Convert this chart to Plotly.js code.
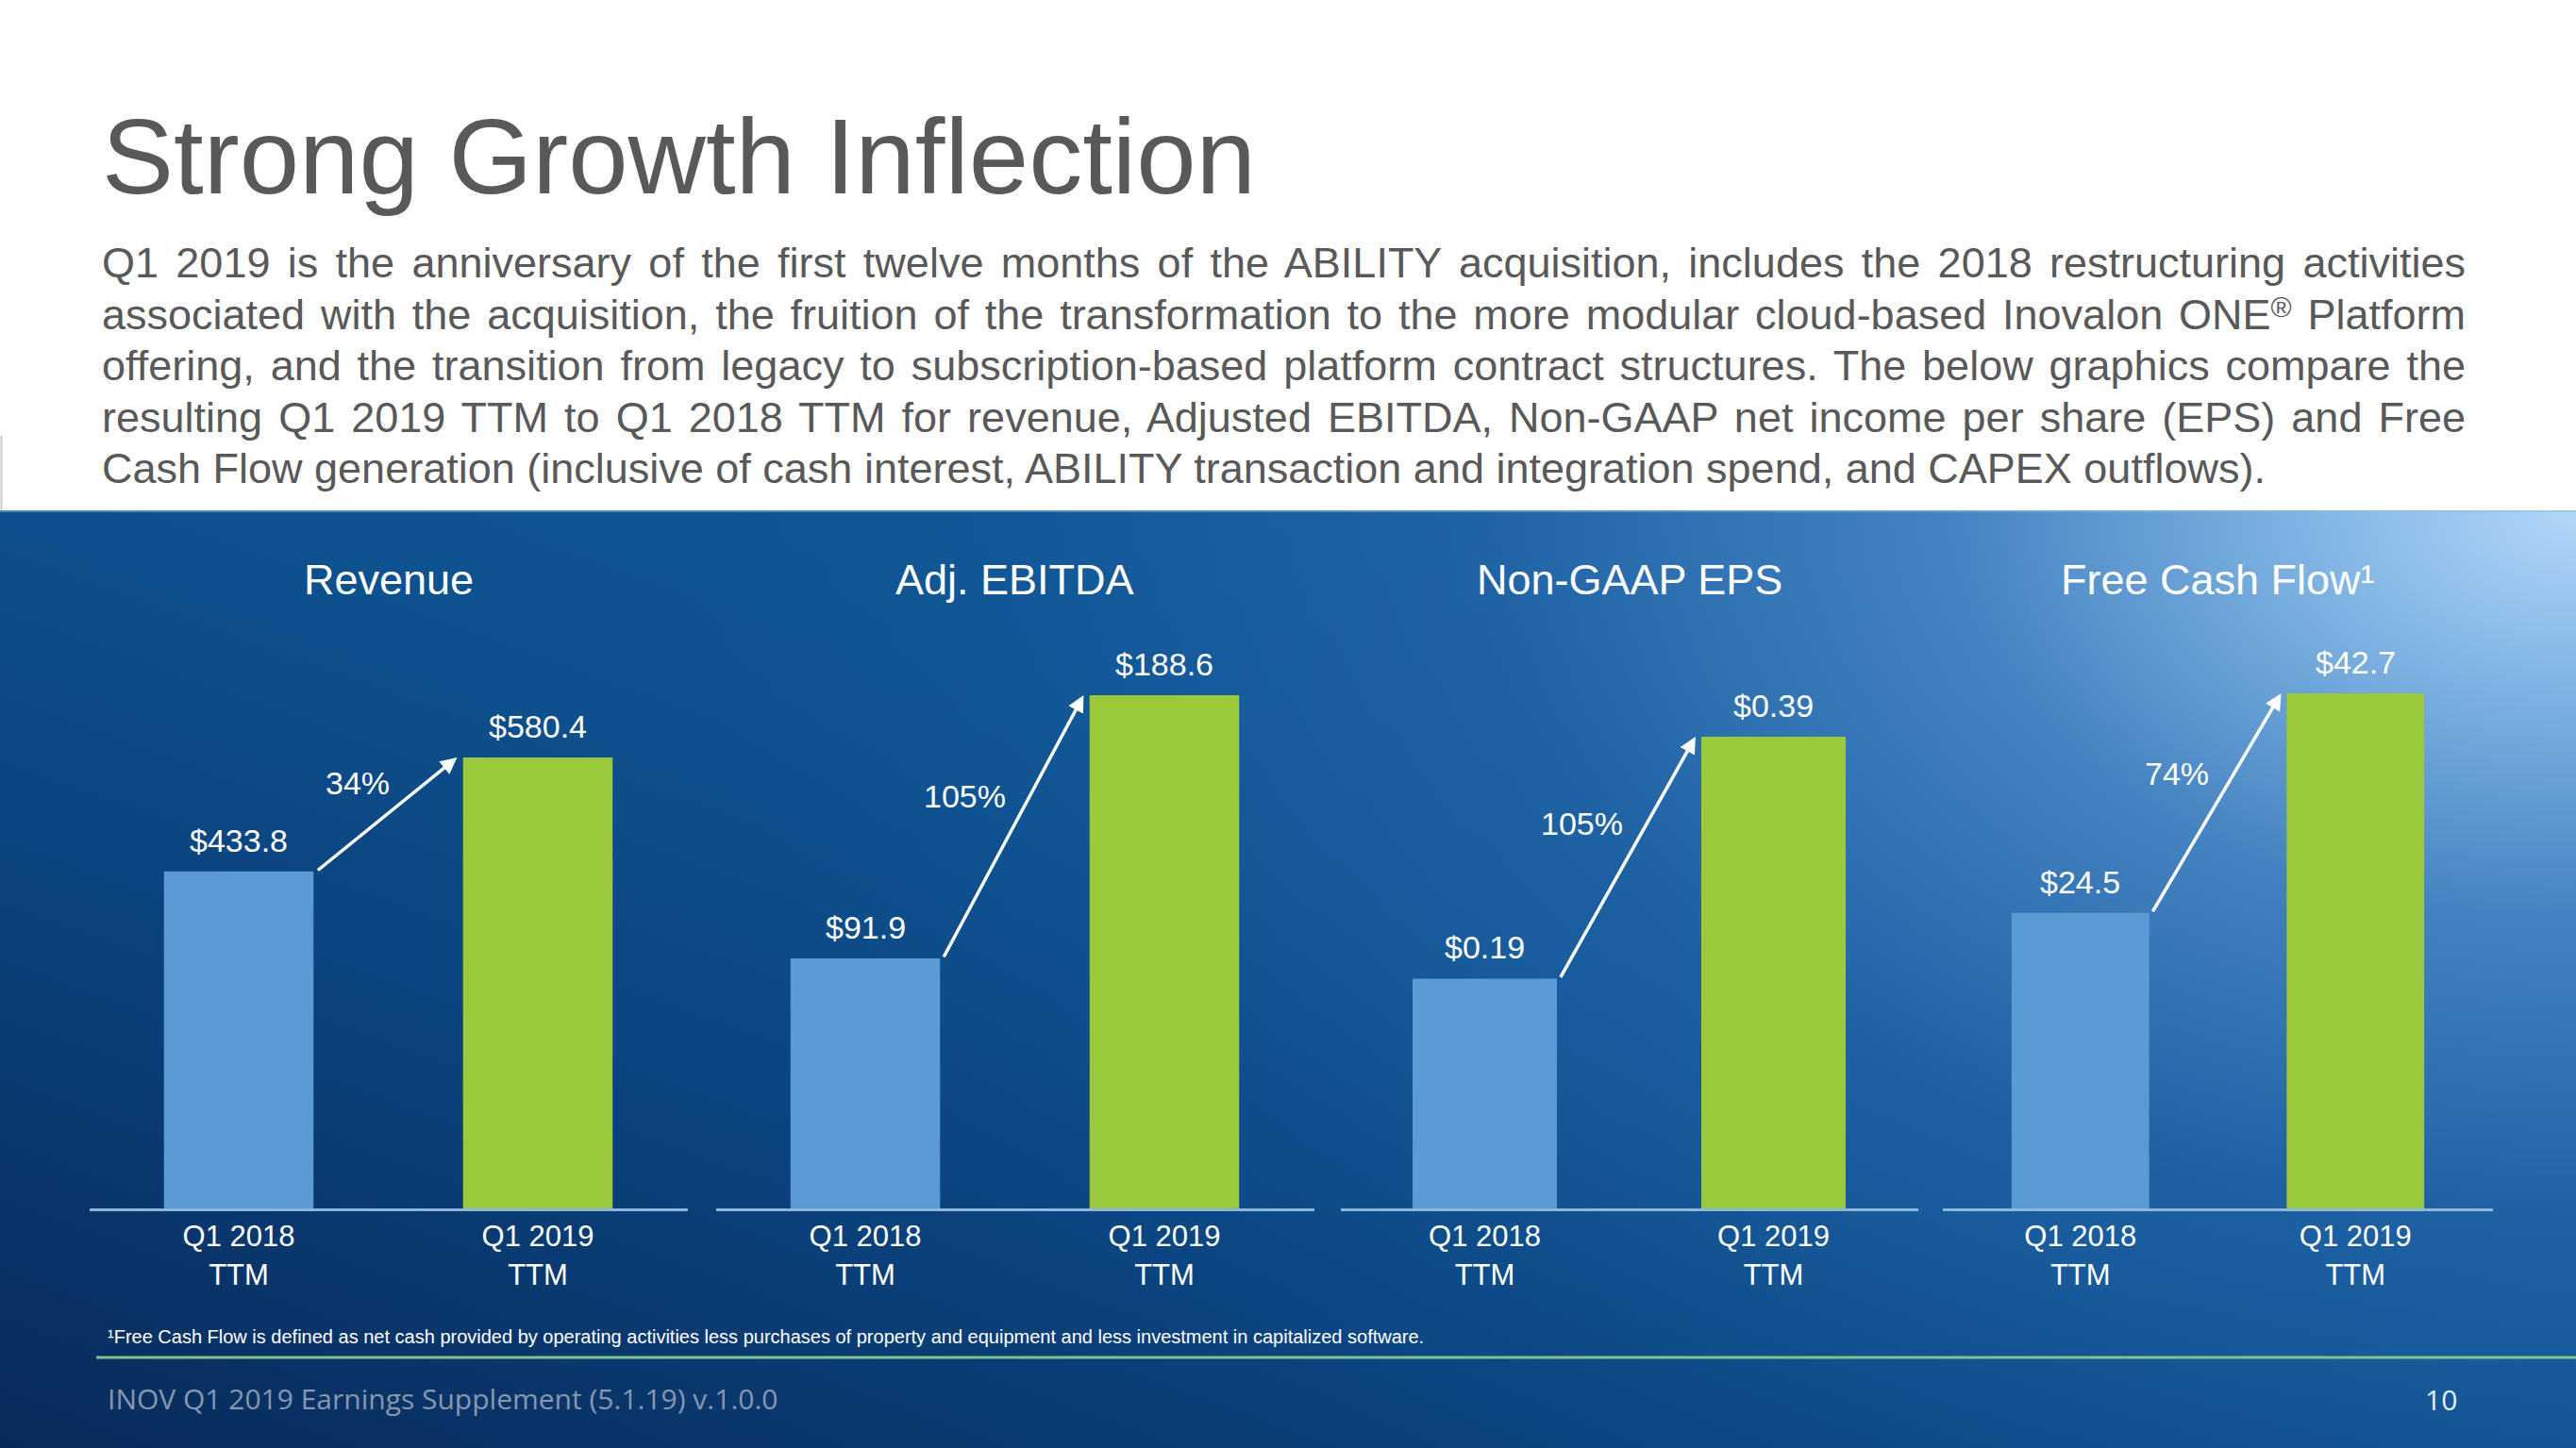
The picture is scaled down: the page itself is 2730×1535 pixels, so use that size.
<!DOCTYPE html>
<html>
<head>
<meta charset="utf-8">
<script src="https://cdn.plot.ly/plotly-3.0.1.min.js"></script>
<style>
  html, body { margin: 0; padding: 0; background: #ffffff; }
  #wrap { position: relative; width: 2730px; height: 1535px; overflow: hidden; background: #ffffff; }
  #bg {
    position: absolute; left: 0; top: 541px; width: 2730px; height: 994px;
    background:
      radial-gradient(ellipse 2000px 1300px at 100% 0%, rgba(178,215,248,1) 0%, rgba(138,188,234,0.92) 14%, rgba(88,148,210,0.72) 33%, rgba(48,114,184,0.45) 58%, rgba(28,98,168,0.15) 84%, rgba(20,90,160,0) 100%),
      linear-gradient(to top right, #082a5a 0%, #0b4480 33%, #0e5290 55%, #145d9d 100%);
  }
  #chart { position: absolute; left: 0; top: 0; width: 2730px; height: 1535px; }
</style>
</head>
<body>
<div id="wrap">
  <div id="bg"></div>
  <div id="chart"></div>
</div>
<script>
// ---------------- data ----------------
const metrics = ['Revenue', 'Adj. EBITDA', 'Non-GAAP EPS', 'Free Cash Flow¹'];
const periods = ['Q1 2018', 'Q1 2019'];
const periodSuffix = 'TTM';
const q1_2018_ttm = [433.8, 91.9, 0.19, 24.5];
const q1_2019_ttm = [580.4, 188.6, 0.39, 42.7];
const valueDecimals = [1, 1, 2, 1];
const growthPct = [34, 105, 105, 74];

const pageTitle = 'Strong Growth Inflection';
const bodyLines = [
  'Q1 2019 is the anniversary of the first twelve months of the ABILITY acquisition, includes the 2018 restructuring activities',
  'associated with the acquisition, the fruition of the transformation to the more modular cloud-based Inovalon ONE<span style="font-size:30px;baseline-shift:45%">®</span> Platform',
  'offering, and the transition from legacy to subscription-based platform contract structures. The below graphics compare the',
  'resulting Q1 2019 TTM to Q1 2018 TTM for revenue, Adjusted EBITDA, Non-GAAP net income per share (EPS) and Free',
  'Cash Flow generation (inclusive of cash interest, ABILITY transaction and integration spend, and CAPEX outflows).'
];
const footnote = '¹Free Cash Flow is defined as net cash provided by operating activities less purchases of property and equipment and less investment in capitalized software.';
const footerText = 'INOV Q1 2019 Earnings Supplement (5.1.19) v.1.0.0';
const pageNumber = '10';

// ---------------- layout geometry ----------------
const W = 2730, H = 1535;
const fx = p => p / W;
const fy = p => 1 - p / H;
const xDomPx = [[94.5, 728.5], [758.5, 1392.5], [1420.5, 2032.5], [2059, 2642]];
const yDomPx = [1281, 641];
const yMax = [777.1, 221.9, 0.4992, 50.05];
const pctShift = [[-33, 33], [-53, 32], [-50, 36], [-44, 31]];
const arrowFrom = 0.26, arrowTo = 0.73;

const FONT = 'Liberation Sans, Arial, Helvetica, sans-serif';
const BLUE = '#5b9bd5';
const GREEN = '#9bc93c';
const WHITE = '#ffffff';
const GRAY = '#595959';

const tickText = periods.map(p => p + '<br>' + periodSuffix);
const tickPos = periods.map((p, k) => k);

const traces = [];
const layout = {
  width: W, height: H,
  margin: {l: 0, r: 0, t: 0, b: 0, pad: 0},
  paper_bgcolor: 'rgba(0,0,0,0)',
  plot_bgcolor: 'rgba(0,0,0,0)',
  showlegend: false,
  bargap: 0.5,
  font: {family: FONT, color: WHITE},
  annotations: [],
  shapes: []
};

metrics.forEach((m, i) => {
  const sfx = i === 0 ? '' : String(i + 1);
  const xa = 'x' + sfx, ya = 'y' + sfx;
  const vals = [q1_2018_ttm[i], q1_2019_ttm[i]];
  traces.push({
    type: 'bar', x: tickPos, y: vals,
    xaxis: xa, yaxis: ya,
    marker: {color: [BLUE, GREEN], line: {width: 0}},
    hoverinfo: 'skip', showlegend: false
  });
  layout['xaxis' + sfx] = {
    domain: [fx(xDomPx[i][0]), fx(xDomPx[i][1])],
    anchor: ya, type: 'linear', range: [-0.5, 1.5],
    tickmode: 'array', tickvals: tickPos, ticktext: tickText,
    showline: true, linecolor: '#8db6dc', linewidth: 3,
    showgrid: false, zeroline: false, ticks: '',
    tickfont: {family: FONT, size: 31, color: WHITE},
    ticklabelstandoff: 0,
    fixedrange: true
  };
  layout['yaxis' + sfx] = {
    domain: [fy(yDomPx[0]), fy(yDomPx[1])],
    anchor: xa, range: [0, yMax[i]], visible: false, fixedrange: true
  };
  // chart title
  layout.annotations.push({
    xref: xa + ' domain', yref: 'paper', x: 0.5, y: fy(615),
    xanchor: 'center', yanchor: 'middle', showarrow: false,
    text: m, font: {family: FONT, size: 45, color: WHITE}
  });
  // value labels
  vals.forEach((v, k) => {
    layout.annotations.push({
      xref: xa, yref: ya, x: tickPos[k], y: v,
      xanchor: 'center', yanchor: 'middle', yshift: 33, showarrow: false,
      text: '$' + v.toFixed(valueDecimals[i]),
      font: {family: FONT, size: 34, color: WHITE}
    });
  });
  // growth arrow from the top of the first bar to the top of the second
  layout.annotations.push({
    xref: xa, yref: ya, axref: xa, ayref: ya,
    x: arrowTo, y: vals[1], ax: arrowFrom, ay: vals[0],
    text: '', showarrow: true, arrowhead: 2, arrowsize: 1.0,
    arrowwidth: 3.5, arrowcolor: WHITE, standoff: 0, startstandoff: 0
  });
  // growth label
  layout.annotations.push({
    xref: xa, yref: ya, x: (tickPos[0] + tickPos[1]) / 2, y: (vals[0] + vals[1]) / 2,
    xanchor: 'center', yanchor: 'middle',
    xshift: pctShift[i][0], yshift: pctShift[i][1], showarrow: false,
    text: growthPct[i] + '%',
    font: {family: FONT, size: 34, color: WHITE}
  });
});

// page title
layout.annotations.push({
  xref: 'paper', yref: 'paper', x: fx(106), y: fy(165.5),
  xanchor: 'left', yanchor: 'middle', showarrow: false,
  text: pageTitle, font: {family: FONT, size: 114, color: GRAY}
});
// body text
const bodyCenters = [278.4, 333, 387.4, 442, 496.4];
const bodyIdx = [];
bodyLines.forEach((t, j) => {
  bodyIdx.push(layout.annotations.length);
  layout.annotations.push({
    xref: 'paper', yref: 'paper', x: fx(106), y: fy(bodyCenters[j]),
    xanchor: 'left', yanchor: 'middle', showarrow: false, align: 'left',
    text: t, font: {family: FONT, size: 45, color: GRAY}
  });
});
// footnote, footer, page number
layout.annotations.push({
  xref: 'paper', yref: 'paper', x: fx(112), y: fy(1417),
  xanchor: 'left', yanchor: 'middle', showarrow: false,
  text: footnote, font: {family: FONT, size: 20, color: WHITE}
});
layout.annotations.push({
  xref: 'paper', yref: 'paper', x: fx(112), y: fy(1482),
  xanchor: 'left', yanchor: 'middle', showarrow: false,
  text: footerText, font: {family: 'Open Sans, sans-serif', size: 30, color: '#8797ae'}
});
layout.annotations.push({
  xref: 'paper', yref: 'paper', x: fx(2587), y: fy(1483),
  xanchor: 'center', yanchor: 'middle', showarrow: false,
  text: pageNumber, font: {family: 'Open Sans, sans-serif', size: 30, color: '#e6f0fa'}
});

// decorative lines
layout.shapes.push({
  type: 'line', xref: 'paper', yref: 'paper',
  x0: fx(102), x1: 1, y0: fy(1439), y1: fy(1439),
  line: {color: '#7fc48b', width: 3}
});
layout.shapes.push({
  type: 'line', xref: 'paper', yref: 'paper',
  x0: 0, x1: 1, y0: fy(542), y1: fy(542),
  line: {color: 'rgba(140,190,220,0.5)', width: 2}
});
layout.shapes.push({
  type: 'line', xref: 'paper', yref: 'paper',
  x0: fx(1.5), x1: fx(1.5), y0: fy(462), y1: fy(541),
  line: {color: '#c9c9c9', width: 2}
});

Plotly.newPlot('chart', traces, layout, {staticPlot: true, displayModeBar: false}).then(gd => {
  // justify the first four body lines to the paragraph width
  const left = 108, right = 2613;
  for (let j = 0; j < 4; j++) {
    const g = gd.querySelector('g.annotation[data-index="' + bodyIdx[j] + '"]');
    if (!g) continue;
    const t = g.querySelector('text.annotation-text');
    if (!t) continue;
    const plain = bodyLines[j].replace(/<[^>]+>/g, '');
    const before = t.getBBox();
    const spaces = (plain.match(/ /g) || []).length;
    const extra = (right - left) - before.width;
    if (extra > 0 && spaces > 0) {
      t.style.wordSpacing = (extra / spaces) + 'px';
      const after = t.getBBox();
      const dx = before.x - after.x;
      t.setAttribute('transform', 'translate(' + dx + ',0)');
    }
  }
});
</script>
</body>
</html>
